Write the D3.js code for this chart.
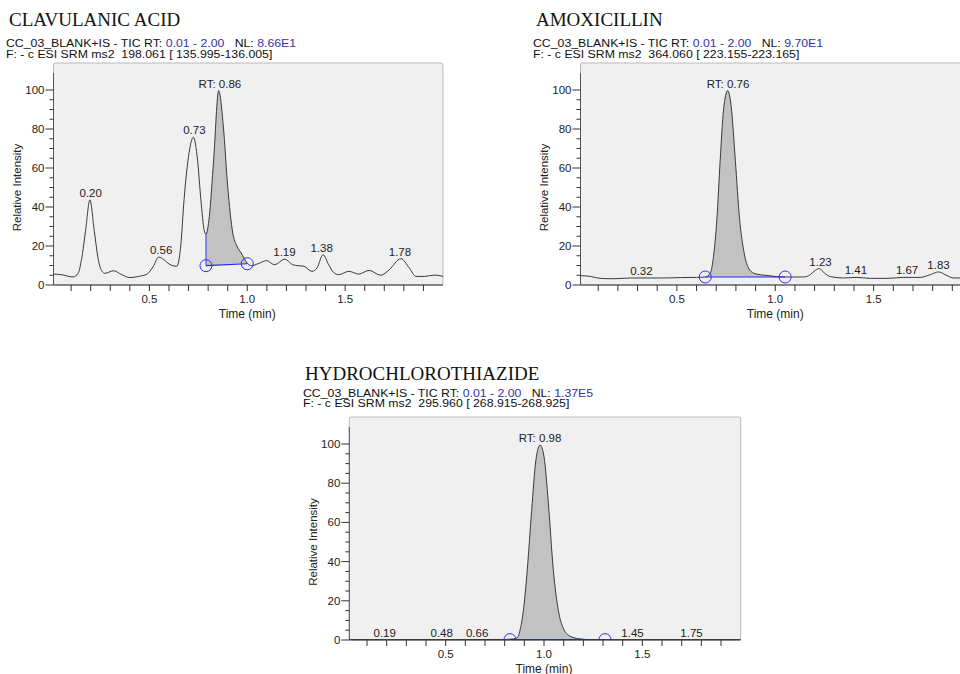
<!DOCTYPE html>
<html>
<head>
<meta charset="utf-8">
<script src="https://cdn.jsdelivr.net/npm/d3@7"></script>
<style>
  html, body { margin: 0; padding: 0; background: #fff; }
  svg text { white-space: pre; }
</style>
</head>
<body>
<svg id="chart" width="960" height="674"></svg>
<script>
// chromatogram data: [time (min), relative intensity]
const clavSeries = [[0.01,5.6],[0.05,5.3],[0.11,4.1],[0.136,6],[0.153,13],[0.174,28],[0.196,43.7],[0.218,28],
  [0.239,13],[0.258,7],[0.273,6],[0.316,7.3],[0.359,5.3],[0.40,3.8],[0.445,4.4],[0.488,5.6],[0.52,9.6],
  [0.548,14.3],[0.574,13],[0.60,10.8],[0.64,9.6],[0.66,20],[0.677,43.7],[0.70,66],[0.725,75.8],[0.746,64],
  [0.763,43.7],[0.78,28],[0.789,26],[0.806,35],[0.828,64],[0.854,99.7],[0.878,81],[0.90,50.5],[0.926,26.6],
  [0.947,20],[0.969,16.4],[1.0,11.2],[1.02,9.9],[1.055,10.9],[1.098,12.5],[1.14,10.4],[1.192,13.3],
  [1.232,10.4],[1.26,9.9],[1.29,9.6],[1.33,7],[1.356,8.7],[1.387,15.5],[1.416,10.4],[1.44,6.5],[1.467,5.3],
  [1.519,7],[1.57,5.6],[1.622,7.5],[1.682,5],[1.725,7.8],[1.785,13.5],[1.828,8.7],[1.862,4.4],[1.905,4.4],
  [1.957,5.1],[2.0,4.4]];
const clavPeakTimes = [0.20, 0.56, 0.73, 0.86, 1.19, 1.38, 1.78];
const clavPeakHeights = [43.7, 14.3, 75.8, 99.7, 13.3, 15.5, 13.5];
const clavRT = 0.86;
const clavIntegration = [[0.789, 9.9], [1.0, 10.9]];

const amoxSeries = [[0.01,4.8],[0.06,4.4],[0.11,3.4],[0.178,3.2],[0.263,3.6],[0.347,3.6],[0.432,3.6],
  [0.517,3.8],[0.60,3.9],[0.644,4.1],[0.67,6.1],[0.686,14.7],[0.703,33.4],[0.72,64],[0.737,89.8],
  [0.758,99.7],[0.776,91.5],[0.797,64],[0.819,33.4],[0.839,18],[0.864,8.7],[0.89,6.1],[0.924,5.3],
  [0.958,4.9],[1.008,4.3],[1.05,4.1],[1.144,4.1],[1.178,5.3],[1.203,7.5],[1.225,8.4],[1.25,6.1],
  [1.28,4.3],[1.347,3.6],[1.415,3.9],[1.483,3.4],[1.568,3.4],[1.653,3.9],[1.737,3.9],[1.788,5.3],
  [1.83,6.7],[1.873,4.8],[1.907,3.6],[1.94,3.6],[2.0,3.6]];
const amoxPeakTimes = [0.32, 0.76, 1.23, 1.41, 1.67, 1.83];
const amoxPeakHeights = [3.6, 99.7, 8.4, 3.9, 3.9, 6.7];
const amoxRT = 0.76;
const amoxIntegration = [[0.644, 4.1], [1.05, 4.1]];

const hctzSeries = [[0.01,0.2],[0.2,0.2],[0.4,0.2],[0.6,0.2],[0.8,0.3],[0.827,0.4],[0.861,0.9],[0.878,5],
  [0.895,15],[0.915,36],[0.937,66],[0.959,92],[0.98,99.5],[1.0,93.5],[1.022,70],[1.047,36],[1.073,15],
  [1.098,6],[1.132,2],[1.175,0.7],[1.234,0.2],[1.31,0.2],[1.5,0.2],[1.75,0.2],[2.0,0.2]];
const hctzPeakTimes = [0.19, 0.48, 0.66, 0.98, 1.45, 1.75];
const hctzPeakHeights = [0.2, 0.2, 0.2, 99.5, 0.2, 0.2];
const hctzRT = 0.98;
const hctzIntegration = [[0.827, 0.2], [1.31, 0.2]];

// header texts
const titles = ["CLAVULANIC ACID", "AMOXICILLIN", "HYDROCHLOROTHIAZIDE"];
const nlValues = ["8.66E1", "9.70E1", "1.37E5"];
const filterLines = [
  "F: - c ESI SRM ms2  198.061 [ 135.995-136.005]",
  "F: - c ESI SRM ms2  364.060 [ 223.155-223.165]",
  "F: - c ESI SRM ms2  295.960 [ 268.915-268.925]"
];
const rtRange = "0.01 - 2.00";
const xTickLabels = [0.5, 1.0, 1.5];
const yTickLabels = [0, 20, 40, 60, 80, 100];

const sans = '"Liberation Sans", Arial, sans-serif';
const svg = d3.select('#chart');

function drawChart(cfg, i) {
  const g = svg.append('g');
  const x = d3.scaleLinear().domain([0.01, 2.0]).range([cfg.left, cfg.right]);
  const y = d3.scaleLinear().domain([0, 100]).range([cfg.axisY, cfg.y100]);

  // header
  g.append('text')
      .attr('x', cfg.titleX).attr('y', cfg.titleY)
      .style('font-family', '"Liberation Serif", "Times New Roman", serif')
      .style('font-size', '19px').attr('fill', '#111')
      .text(titles[i]);
  // the instrument lines are squashed a bit vertically in the original
  const l1 = g.append('text')
      .attr('transform', 'translate(' + cfg.subX + ',' + cfg.sub1Y + ')scale(1,0.82)')
      .style('font-family', sans).style('font-size', '12.3px').attr('fill', '#111');
  l1.append('tspan').text('CC_03_BLANK+IS - TIC RT: ');
  l1.append('tspan').attr('fill', '#3434a8').text(rtRange);
  l1.append('tspan').text('   NL: ');
  l1.append('tspan').attr('fill', '#3434a8').text(nlValues[i]);
  g.append('text')
      .attr('transform', 'translate(' + cfg.subX + ',' + cfg.sub2Y + ')scale(1,0.82)')
      .style('font-family', sans).style('font-size', '12.3px').attr('fill', '#111')
      .text(filterLines[i]);

  // plot box
  g.append('rect')
      .attr('x', cfg.left).attr('y', cfg.top)
      .attr('width', cfg.boxRight - cfg.left).attr('height', cfg.axisY - cfg.top)
      .attr('rx', 2)
      .attr('fill', '#f0f0f0').attr('stroke', '#b9b9b9');

  const clipId = 'clip' + i;
  g.append('clipPath').attr('id', clipId)
    .append('rect')
      .attr('x', cfg.left).attr('y', cfg.top)
      .attr('width', cfg.boxRight - cfg.left).attr('height', cfg.axisY - cfg.top);
  const plot = g.append('g').attr('clip-path', 'url(#' + clipId + ')');

  // integrated peak
  const a = cfg.integration[0], b = cfg.integration[1];
  const base = d3.scaleLinear().domain([a[0], b[0]]).range([a[1], b[1]]);
  const inPeak = cfg.series.filter(d => d[0] >= a[0] && d[0] <= b[0]);
  plot.append('path')
      .datum(inPeak)
      .attr('d', d3.area().curve(d3.curveMonotoneX)
          .x(d => x(d[0])).y0(d => y(base(d[0]))).y1(d => y(d[1])))
      .attr('fill', '#c2c2c2');

  // chromatogram line
  plot.append('path')
      .datum(cfg.series)
      .attr('d', d3.line().curve(d3.curveMonotoneX).x(d => x(d[0])).y(d => y(d[1])))
      .attr('fill', 'none').attr('stroke', '#3a3a3a').attr('stroke-width', 1);

  // baseline + markers
  const startTop = inPeak[0][1];
  plot.append('line')
      .attr('x1', x(a[0])).attr('x2', x(a[0]))
      .attr('y1', y(startTop)).attr('y2', y(a[1]))
      .attr('stroke', '#3535ff').attr('stroke-width', 1);
  plot.append('line')
      .attr('x1', x(a[0])).attr('x2', x(b[0]))
      .attr('y1', y(a[1])).attr('y2', y(b[1]))
      .attr('stroke', '#2525ff').attr('stroke-width', 1.2);
  plot.selectAll('circle.mark')
      .data(cfg.integration)
      .enter().append('circle')
      .attr('cx', d => x(d[0])).attr('cy', d => y(d[1]))
      .attr('r', 6)
      .attr('fill', 'none').attr('stroke', '#3030ff').attr('stroke-width', 1);

  // axes lines
  g.append('line')
      .attr('x1', cfg.left).attr('x2', cfg.boxRight)
      .attr('y1', cfg.axisY).attr('y2', cfg.axisY)
      .attr('stroke', '#333');
  g.append('line')
      .attr('x1', cfg.left).attr('x2', cfg.left)
      .attr('y1', cfg.axisY).attr('y2', cfg.top + 10)
      .attr('stroke', '#555');

  // x ticks
  const xt = d3.range(1, 20).map(k => k / 10);
  g.selectAll('line.xt')
      .data(xt).enter().append('line')
      .attr('x1', d => x(d)).attr('x2', d => x(d))
      .attr('y1', cfg.axisY).attr('y2', cfg.axisY + 6)
      .attr('stroke', '#333');
  g.selectAll('text.xl')
      .data(xTickLabels).enter().append('text')
      .attr('x', d => x(d)).attr('y', cfg.axisY + 18)
      .attr('text-anchor', 'middle')
      .style('font-family', sans).style('font-size', '11.5px').attr('fill', '#222')
      .text(d => d3.format('.1f')(d));
  g.append('text')
      .attr('x', x(1.0)).attr('y', cfg.axisY + 33)
      .attr('text-anchor', 'middle')
      .style('font-family', sans).style('font-size', '12px').attr('fill', '#222')
      .text('Time (min)');

  // y ticks
  const yt = d3.range(0, 101, 5);
  g.selectAll('line.yt')
      .data(yt).enter().append('line')
      .attr('x1', d => cfg.left - (d % 20 === 0 ? 8 : 4)).attr('x2', cfg.left)
      .attr('y1', d => y(d)).attr('y2', d => y(d))
      .attr('stroke', '#333');
  g.selectAll('text.yl')
      .data(yTickLabels).enter().append('text')
      .attr('x', cfg.left - 9).attr('y', d => y(d) + 4)
      .attr('text-anchor', 'end')
      .style('font-family', sans).style('font-size', '11.5px').attr('fill', '#222')
      .text(d => d);
  g.append('text')
      .attr('transform', 'translate(' + (cfg.left - 32.5) + ',' + y(50) + ')rotate(-90)')
      .attr('text-anchor', 'middle')
      .style('font-family', sans).style('font-size', '11.5px').attr('fill', '#222')
      .text('Relative Intensity');

  // peak labels
  const peaks = cfg.peakTimes.map((t, k) => ({t: t, h: cfg.peakHeights[k]}));
  g.selectAll('text.pk')
      .data(peaks).enter().append('text')
      .attr('x', d => x(d.t)).attr('y', d => y(d.h) - 3)
      .attr('text-anchor', 'middle')
      .style('font-family', sans).style('font-size', '11.5px').attr('fill', '#222')
      .text(d => (d.t === cfg.rt ? 'RT: ' : '') + d3.format('.2f')(d.t));
}

const charts = [
  {series: clavSeries, peakTimes: clavPeakTimes, peakHeights: clavPeakHeights, rt: clavRT,
   integration: clavIntegration, left: 53.5, right: 443, boxRight: 443, top: 63, axisY: 285, y100: 90,
   titleX: 9, titleY: 26, subX: 6, sub1Y: 47, sub2Y: 57.5},
  {series: amoxSeries, peakTimes: amoxPeakTimes, peakHeights: amoxPeakHeights, rt: amoxRT,
   integration: amoxIntegration, left: 580.5, right: 972, boxRight: 975, top: 63, axisY: 285, y100: 90,
   titleX: 536, titleY: 26, subX: 533, sub1Y: 47, sub2Y: 57.5},
  {series: hctzSeries, peakTimes: hctzPeakTimes, peakHeights: hctzPeakHeights, rt: hctzRT,
   integration: hctzIntegration, left: 349.3, right: 740.7, boxRight: 740.7, top: 417, axisY: 640, y100: 444,
   titleX: 305, titleY: 380, subX: 303, sub1Y: 397, sub2Y: 406.5}
];

charts.forEach(drawChart);
</script>
</body>
</html>
